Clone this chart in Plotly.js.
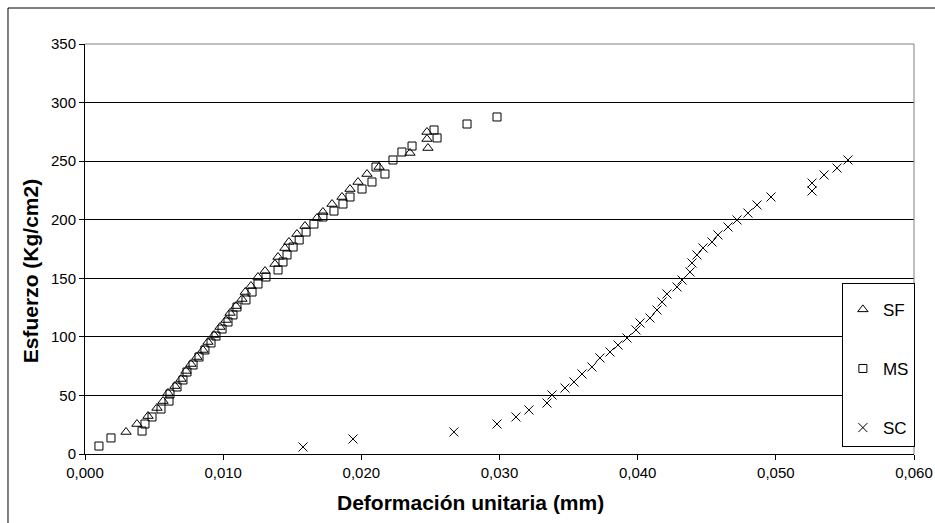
<!DOCTYPE html>
<html>
<head>
<meta charset="utf-8">
<script src="https://cdn.plot.ly/plotly-3.0.1.min.js"></script>
<style>
  html, body { margin: 0; padding: 0; background: #fff; }
  #chart { width: 935px; height: 523px; }
</style>
</head>
<body>
<div id="chart"></div>
<script>
// Deformación unitaria (mm) vs Esfuerzo (Kg/cm2) for three mixes

const sfStrain = [0.00297, 0.00376, 0.00456, 0.00521, 0.00565, 0.00601, 0.00651, 0.00695, 0.00731, 0.00767,
  0.0081, 0.00854, 0.0089, 0.00934, 0.00977, 0.01021, 0.0105, 0.01093, 0.01136, 0.0116,
  0.01201, 0.01252, 0.01303, 0.01375, 0.01397, 0.01447, 0.01476, 0.01534, 0.01592, 0.01679,
  0.01722, 0.01788, 0.0186, 0.01918, 0.01976, 0.02041, 0.02128, 0.02352, 0.02475, 0.02475, 0.02482];
const sfStress = [18.8, 25.6, 32.4, 39.3, 45.2, 52.1, 58.0, 64.0, 70.9, 76.8,
  82.8, 88.8, 95.6, 101.6, 108.4, 114.4, 120.4, 126.3, 132.3, 138.3,
  143.4, 151.1, 156.2, 162.2, 168.2, 175.8, 181.0, 187.8, 194.6, 201.5,
  206.6, 213.4, 219.4, 226.2, 232.2, 239.0, 245.0, 257.0, 274.9, 268.9, 261.2];

const msStrain = [0.00101, 0.00188, 0.00413, 0.00434, 0.00485, 0.0055, 0.00608, 0.00615, 0.00666, 0.00709,
  0.00738, 0.00782, 0.00825, 0.00868, 0.00912, 0.00948, 0.00992, 0.01035, 0.01071, 0.011,
  0.01165, 0.01209, 0.01252, 0.0131, 0.01397, 0.01433, 0.01462, 0.01506, 0.0155, 0.016,
  0.01657, 0.01722, 0.01802, 0.01867, 0.01918, 0.02005, 0.02077, 0.02171, 0.02106, 0.02229,
  0.02294, 0.02367, 0.02526, 0.02548, 0.02765, 0.02982];
const msStress = [6.8, 13.7, 19.6, 25.6, 31.6, 38.4, 45.2, 51.2, 57.2, 63.2,
  70.0, 76.0, 82.8, 88.8, 94.8, 100.7, 106.7, 112.7, 118.7, 125.5,
  131.5, 138.3, 145.1, 151.1, 157.1, 163.9, 169.9, 176.7, 182.7, 189.5,
  196.3, 202.3, 207.4, 213.4, 219.4, 226.2, 232.2, 239.0, 245.0, 251.0,
  257.8, 262.9, 276.6, 269.8, 281.7, 287.7];

const scStrain = [0.01578, 0.0194, 0.0267, 0.02982, 0.03119, 0.03213, 0.03344, 0.0338, 0.03474, 0.03539,
  0.03597, 0.03669, 0.03727, 0.038, 0.03858, 0.03923, 0.03988, 0.04017, 0.04089, 0.0414,
  0.04176, 0.04212, 0.04285, 0.04321, 0.04379, 0.04393, 0.04429, 0.04473, 0.04538, 0.04581,
  0.04654, 0.04719, 0.04798, 0.04864, 0.04965, 0.05262, 0.05262, 0.05349, 0.05443, 0.05522];
const scStress = [6.0, 12.8, 18.8, 25.6, 31.6, 37.6, 43.5, 50.4, 56.3, 61.5,
  68.3, 74.3, 82.0, 87.1, 93.0, 99.0, 105.9, 111.8, 116.1, 122.9,
  129.8, 136.6, 142.6, 148.5, 155.4, 163.1, 169.9, 175.9, 181.0, 187.0,
  193.8, 199.8, 205.7, 212.6, 219.4, 224.5, 231.3, 238.2, 244.1, 251.0];

const xTicks = [0, 0.01, 0.02, 0.03, 0.04, 0.05, 0.06];
const yTicks = [0, 50, 100, 150, 200, 250, 300, 350];
const xTitle = 'Deformación unitaria (mm)';
const yTitle = 'Esfuerzo (Kg/cm2)';

const FONT = 'Liberation Sans, Arial, sans-serif';
const TITLE_FONT = { family: FONT, size: 21, color: '#000', weight: 'bold' };

function series(name, xs, ys, symbol, size, group) {
  return {
    type: 'scatter', mode: 'markers', name: name, x: xs, y: ys,
    legendgroup: group,
    marker: { symbol: symbol, size: size, color: '#000', line: { color: '#000', width: 1 } },
    hoverinfo: 'x+y+name'
  };
}

const traces = [
  series('SF', sfStrain, sfStress, 'triangle-up-open', 9, 'g1'),
  series('MS', msStrain, msStress, 'square-open', 8, 'g2'),
  series('SC', scStrain, scStress, 'x-thin-open', 9, 'g3')
];

const layout = {
  width: 935, height: 523,
  margin: { l: 85, r: 21, t: 44, b: 69 },
  paper_bgcolor: '#fff', plot_bgcolor: '#fff',
  separators: ',.',
  font: { family: FONT, size: 15, color: '#000' },
  showlegend: true,
  legend: {
    x: 0.913, xanchor: 'left', y: 0.417, yanchor: 'top',
    bgcolor: '#fff', bordercolor: '#000', borderwidth: 1,
    font: { family: FONT, size: 17, color: '#000' },
    traceorder: 'grouped', tracegroupgap: 34,
    itemwidth: 30,
    title: { text: ' ', font: { size: 6 } }
  },
  xaxis: {
    range: [0, 0.06], tickvals: xTicks, tickformat: '.3f',
    showgrid: false, zeroline: false,
    showline: true, linecolor: '#000', linewidth: 1,
    ticks: 'outside', ticklen: 5, tickcolor: '#000',
    tickfont: { family: FONT, size: 15, color: '#000' }
  },
  yaxis: {
    range: [0, 350], tickvals: yTicks,
    showgrid: true, gridcolor: '#000', gridwidth: 1, zeroline: false,
    showline: true, linecolor: '#000', linewidth: 1,
    ticks: 'outside', ticklen: 5, tickcolor: '#000',
    tickfont: { family: FONT, size: 15, color: '#000' }
  },
  annotations: [
    // axis titles, centred on the chart frame rather than the plot area
    { text: xTitle, xref: 'paper', yref: 'paper', x: 0.4656, y: -0.1195,
      xanchor: 'center', yanchor: 'middle', showarrow: false, font: TITLE_FONT },
    { text: yTitle, xref: 'paper', yref: 'paper', x: -0.0663, y: 0.446, textangle: -90,
      xanchor: 'center', yanchor: 'middle', showarrow: false, font: TITLE_FONT }
  ],
  shapes: [
    // outer chart frame (left and top edges)
    { type: 'line', xref: 'paper', yref: 'paper', x0: -0.0929, x1: -0.0929, y0: 1.0878, y1: -0.2,
      line: { color: '#000', width: 1 } },
    { type: 'line', xref: 'paper', yref: 'paper', x0: -0.0929, x1: 1.03, y0: 1.0878, y1: 1.0878,
      line: { color: '#000', width: 1 } },
    // plot area top and right borders
    { type: 'line', xref: 'paper', yref: 'paper', x0: 0, x1: 1, y0: 1, y1: 1,
      line: { color: '#808080', width: 1 } },
    { type: 'line', xref: 'paper', yref: 'paper', x0: 1, x1: 1, y0: 0, y1: 1,
      line: { color: '#808080', width: 1 } }
  ]
};

Plotly.newPlot('chart', traces, layout, { displayModeBar: false, staticPlot: true });
</script>
</body>
</html>
